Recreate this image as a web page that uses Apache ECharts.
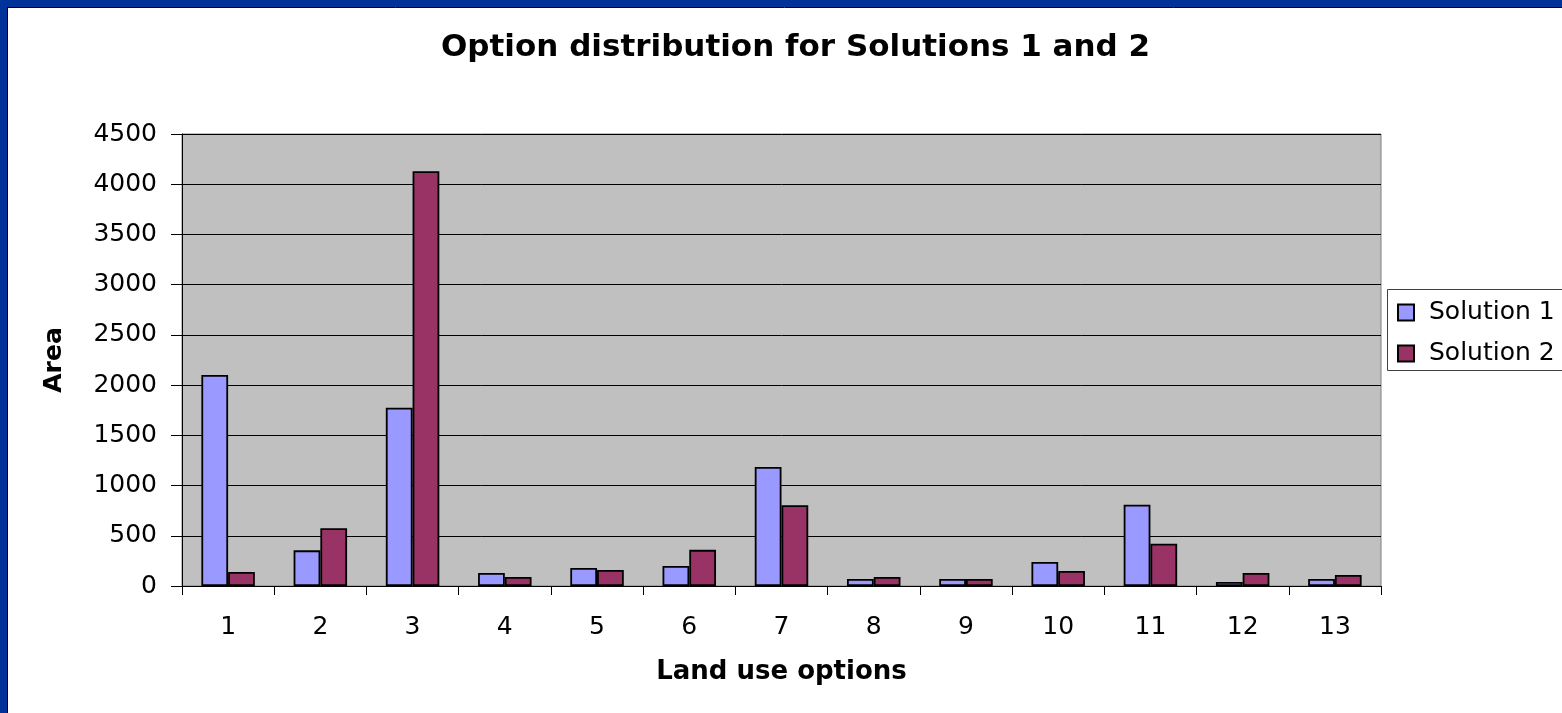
<!DOCTYPE html>
<html>
<head>
<meta charset="utf-8">
<script src="https://cdn.jsdelivr.net/npm/echarts@6/dist/echarts.min.js"></script>
<style>
html,body{margin:0;padding:0;background:#fff;}
#c{width:1562px;height:713px;}
</style>
</head>
<body>
<div id="c"></div>
<script>
var categories = ['1','2','3','4','5','6','7','8','9','10','11','12','13'];
var solution1 = [2100, 355, 1775, 130, 180, 200, 1185, 70, 70, 240, 810, 40, 70];
var solution2 = [140, 575, 4130, 90, 160, 360, 805, 90, 70, 150, 420, 130, 110];
var yTicks = {min: 0, max: 4500, interval: 500};

var FONT = '"DejaVu Sans", "Liberation Sans", Arial, sans-serif';
var chart = echarts.init(document.getElementById('c'), null, {renderer: 'canvas'});
chart.setOption({
  backgroundColor: '#ffffff',
  animation: false,
  title: {
    text: 'Option distribution for Solutions 1 and 2',
    left: 436, top: 27,
    textStyle: {fontFamily: FONT, fontSize: 31, fontWeight: 'bold', color: '#000'}
  },
  graphic: [
    {type: 'rect', shape: {x: 0, y: 0, width: 1562, height: 7}, style: {fill: '#003399'}, z: 100},
    {type: 'rect', shape: {x: 0, y: 0, width: 7, height: 713}, style: {fill: '#003399'}, z: 100},
    {type: 'line', shape: {x1: 7, y1: 7.5, x2: 1562, y2: 7.5}, style: {stroke: '#000', lineWidth: 1}, z: 100},
    {type: 'line', shape: {x1: 7.5, y1: 7, x2: 7.5, y2: 713}, style: {stroke: '#000', lineWidth: 1}, z: 100},
    {type: 'rect', shape: {x: 1387.5, y: 289.5, width: 200, height: 81}, style: {fill: '#fff', stroke: '#404040', lineWidth: 1}, z: 1}
  ],
  legend: {
    orient: 'vertical',
    left: 1397, top: 300,
    padding: 0,
    itemWidth: 16, itemHeight: 16,
    itemGap: 16,
    icon: 'rect',
    textStyle: {fontFamily: FONT, fontSize: 25, lineHeight: 25, color: '#000', padding: [0, 0, 0, 10]},
    z: 10
  },
  grid: {left: 182, right: 181, top: 134, bottom: 127, containLabel: false,
         show: true, backgroundColor: '#C0C0C0', borderColor: '#808080', borderWidth: 1},
  xAxis: {
    type: 'category',
    data: categories,
    name: 'Land use options',
    nameLocation: 'middle',
    nameGap: 73,
    nameTextStyle: {fontFamily: FONT, fontSize: 26, fontWeight: 'bold', color: '#000'},
    axisLine: {lineStyle: {color: '#000', width: 1}},
    axisTick: {show: true, length: 9, lineStyle: {color: '#000'}},
    axisLabel: {fontFamily: FONT, fontSize: 25, color: '#000', margin: 29}
  },
  yAxis: {
    type: 'value',
    min: yTicks.min, max: yTicks.max, interval: yTicks.interval,
    name: 'Area',
    nameLocation: 'middle',
    nameGap: 115,
    nameRotate: 90,
    nameTextStyle: {fontFamily: FONT, fontSize: 25, fontWeight: 'bold', color: '#000'},
    axisLine: {show: true, lineStyle: {color: '#000', width: 1}},
    axisTick: {show: true, length: 11, lineStyle: {color: '#000'}},
    axisLabel: {fontFamily: FONT, fontSize: 25, color: '#000', margin: 25,
                formatter: function (v) { return String(v); }},
    splitLine: {show: true, lineStyle: {color: '#000', width: 1}}
  },
  series: [
    {
      name: 'Solution 1', type: 'bar', data: solution1,
      barGap: '0%', barCategoryGap: '42%',
      itemStyle: {color: '#9999FF', borderColor: '#000', borderWidth: 1.8}
    },
    {
      name: 'Solution 2', type: 'bar', data: solution2,
      barGap: '0%', barCategoryGap: '42%',
      itemStyle: {color: '#993366', borderColor: '#000', borderWidth: 1.8}
    }
  ]
});
</script>
</body>
</html>
